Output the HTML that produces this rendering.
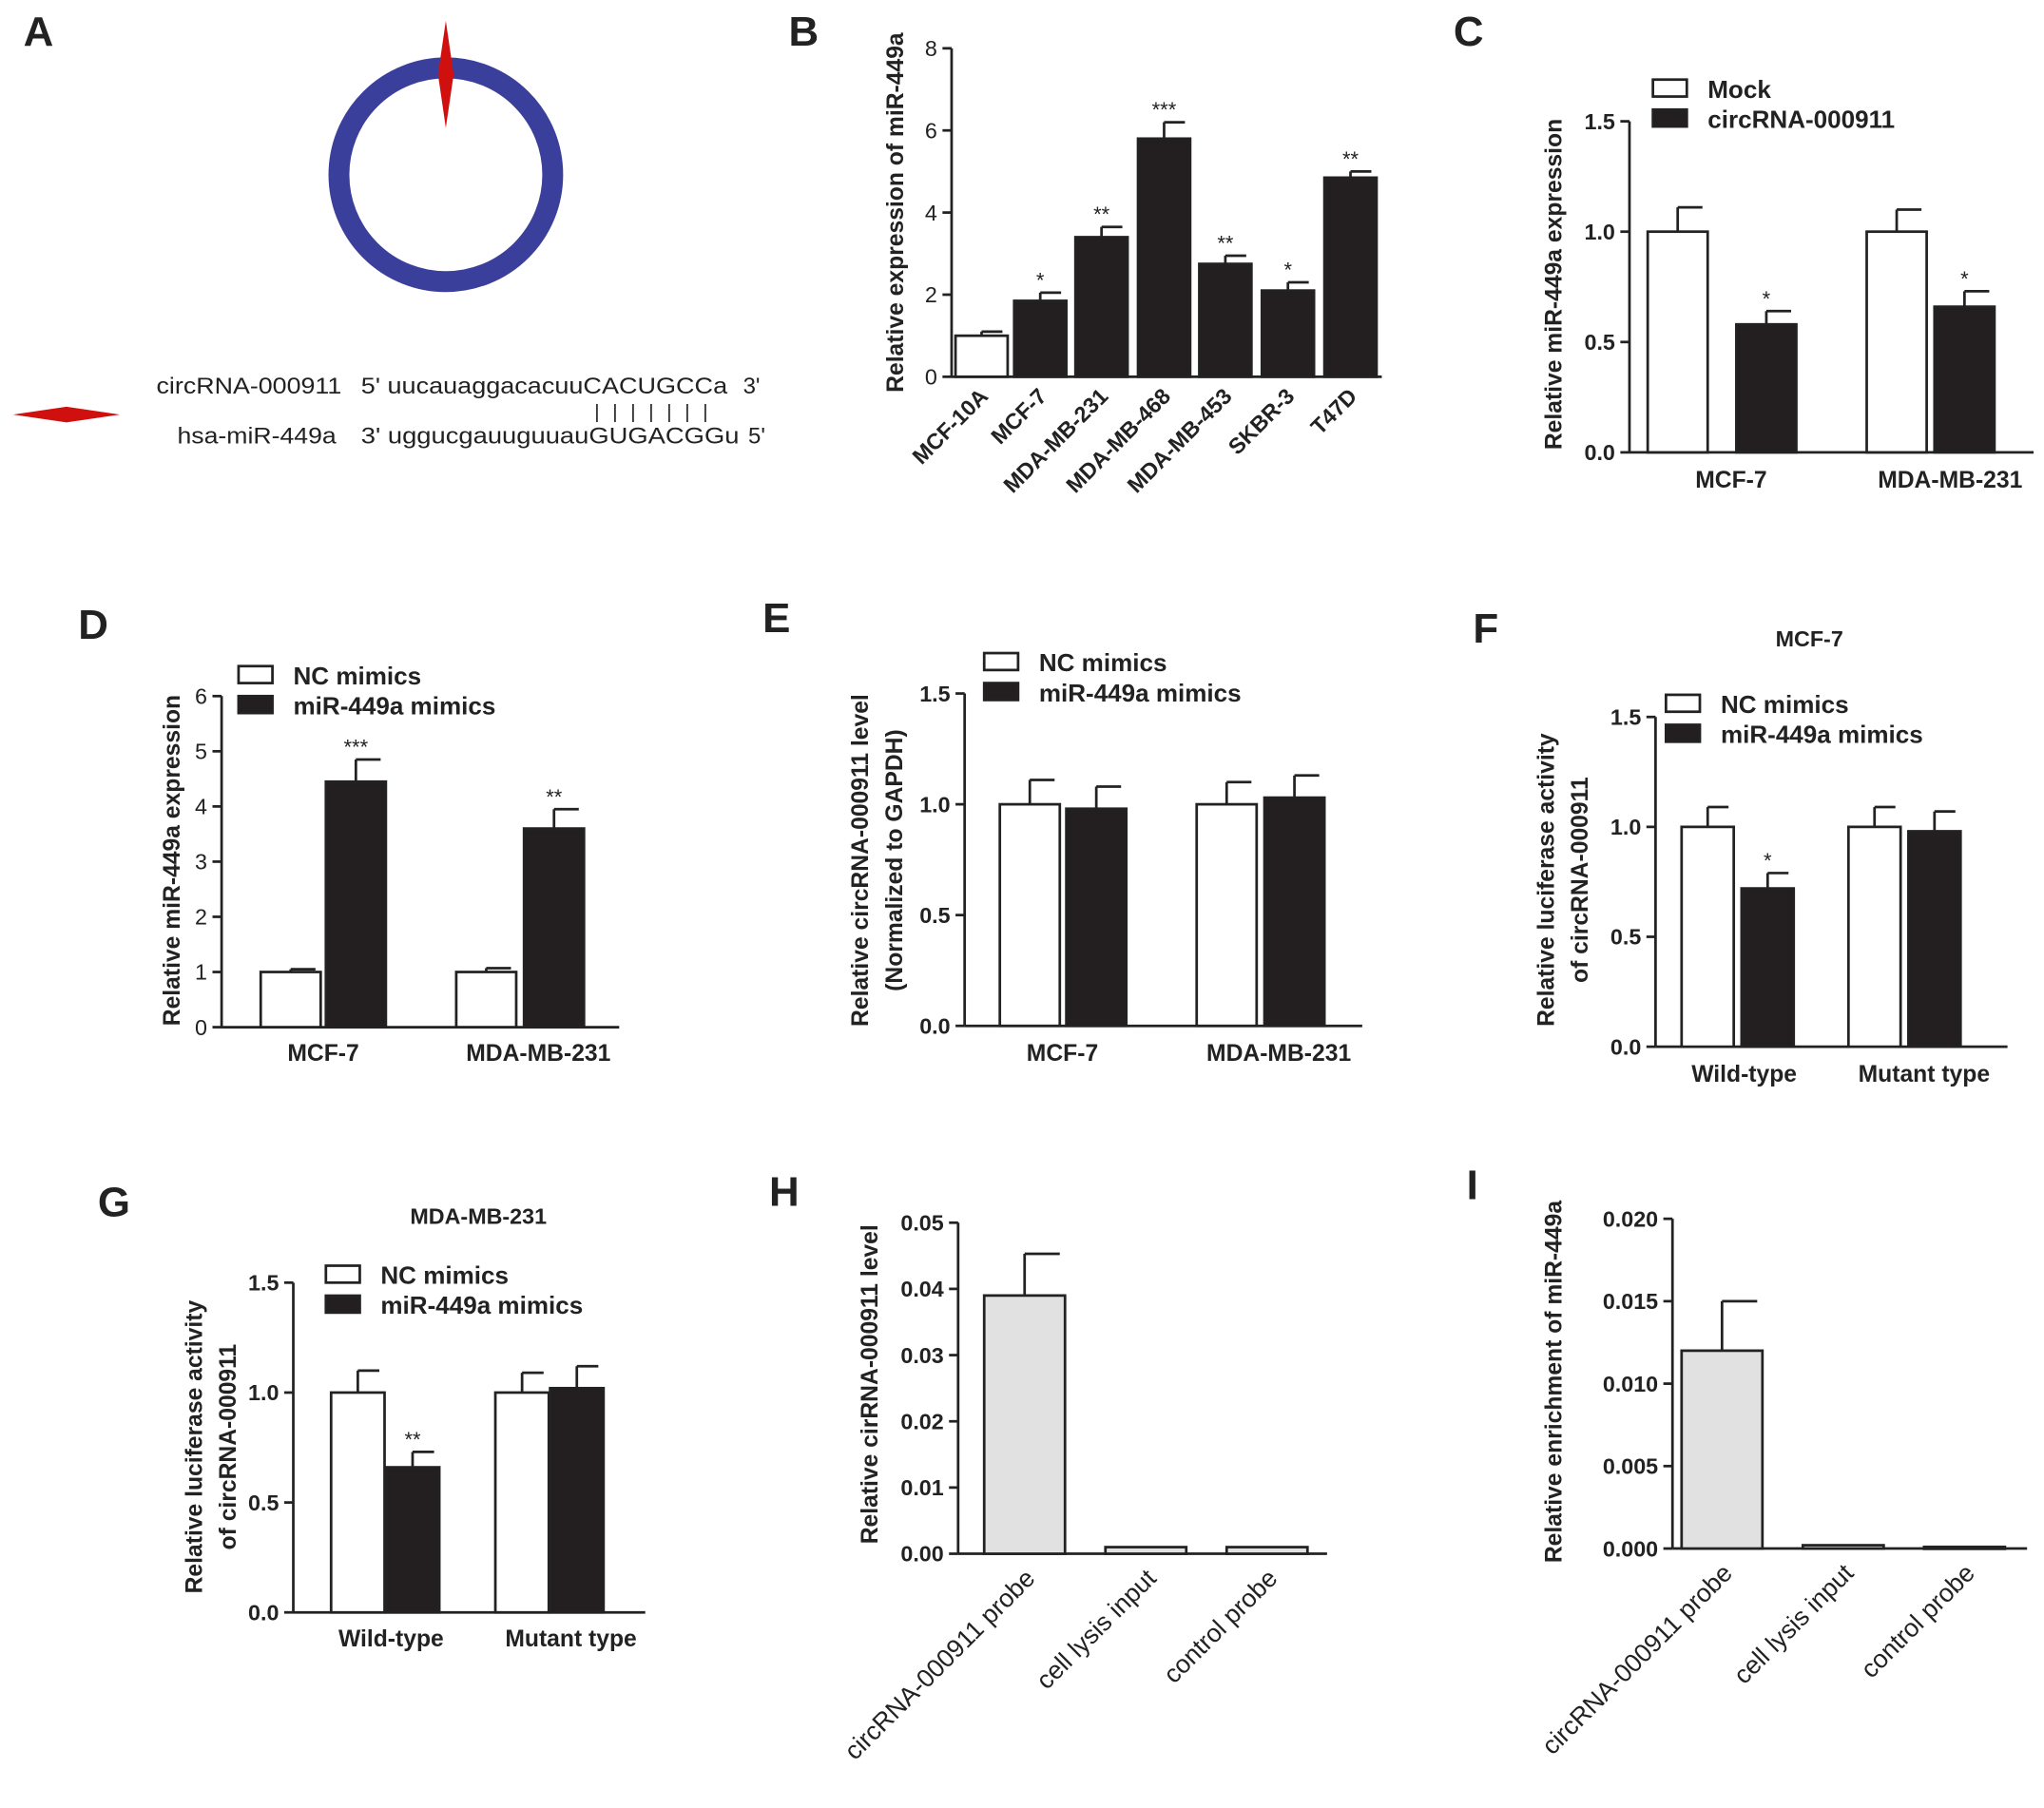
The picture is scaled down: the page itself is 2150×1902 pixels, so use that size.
<!DOCTYPE html>
<html><head><meta charset="utf-8"><style>
html,body{margin:0;padding:0;background:#fff}
svg{display:block}
text{font-family:"Liberation Sans",sans-serif;fill:#222}
</style></head><body>
<svg id="fig" width="2150" height="1902" viewBox="0 0 1568 1387" xmlns="http://www.w3.org/2000/svg">
<g>
<text x="18" y="35" font-size="32" font-weight="bold">A</text>
<circle cx="342" cy="134" r="82" fill="none" stroke="#3b3f9c" stroke-width="16"/>
<polygon points="342,16 348,57 342,98 336,57" fill="#d0100f"/>
<polygon points="10,318 51,312 92,318 51,324" fill="#d0100f"/>
<text x="120" y="302" font-size="17.5" textLength="142" lengthAdjust="spacingAndGlyphs">circRNA-000911</text>
<text x="277" y="302" font-size="17.5" textLength="281" lengthAdjust="spacingAndGlyphs">5' uucauaggacacuuCACUGCCa</text>
<text x="570" y="302" font-size="17.5">3'</text>
<text x="456" y="321" font-size="15" textLength="87" lengthAdjust="spacing">|||||||</text>
<text x="136" y="340" font-size="17.5" textLength="122" lengthAdjust="spacingAndGlyphs">hsa-miR-449a</text>
<text x="277" y="340" font-size="17.5" textLength="290" lengthAdjust="spacingAndGlyphs">3' uggucgauuguuauGUGACGGu</text>
<text x="574" y="340" font-size="17.5">5'</text>
</g>
</svg>
<script>
// Panel B
const bCats=["MCF-10A","MCF-7","MDA-MB-231","MDA-MB-468","MDA-MB-453","SKBR-3","T47D"];
const bVals=[1.0,1.85,3.4,5.8,2.75,2.1,4.85];
const bErr=[0.1,0.2,0.25,0.4,0.2,0.2,0.15];
const bStars=["","*","**","***","**","*","**"];
const bTicks=[0,2,4,6,8];
// Panel C
const cGroups=["MCF-7","MDA-MB-231"];
const cSeries=["Mock","circRNA-000911"];
const cVals=[[1.0,0.58],[1.0,0.66]];
const cErr=[[0.11,0.06],[0.1,0.07]];
const cStars=[["","*"],["","*"]];
const cTicks=[0,0.5,1.0,1.5];
// Panel D
const dGroups=["MCF-7","MDA-MB-231"];
const dSeries=["NC mimics","miR-449a mimics"];
const dVals=[[1.0,4.45],[1.0,3.6]];
const dErr=[[0.05,0.4],[0.07,0.35]];
const dStars=[["","***"],["","**"]];
const dTicks=[0,1,2,3,4,5,6];
// Panel E
const eGroups=["MCF-7","MDA-MB-231"];
const eVals=[[1.0,0.98],[1.0,1.03]];
const eErr=[[0.11,0.1],[0.1,0.1]];
const eTicks=[0,0.5,1.0,1.5];
// Panel F
const fGroups=["Wild-type","Mutant type"];
const fVals=[[1.0,0.72],[1.0,0.98]];
const fErr=[[0.09,0.07],[0.09,0.09]];
const fStars=[["","*"],["",""]];
const fTicks=[0,0.5,1.0,1.5];
// Panel G
const gGroups=["Wild-type","Mutant type"];
const gVals=[[1.0,0.66],[1.0,1.02]];
const gErr=[[0.1,0.07],[0.09,0.1]];
const gStars=[["","**"],["",""]];
const gTicks=[0,0.5,1.0,1.5];
// Panel H
const hCats=["circRNA-000911 probe","cell lysis input","control probe"];
const hVals=[0.039,0.001,0.001];
const hErr=[0.0063,0,0];
const hTicks=[0,0.01,0.02,0.03,0.04,0.05];
// Panel I
const iCats=["circRNA-000911 probe","cell lysis input","control probe"];
const iVals=[0.012,0.0002,0.0001];
const iErr=[0.003,0,0];
const iTicks=[0,0.005,0.010,0.015,0.020];

const NS="http://www.w3.org/2000/svg";
const fig=document.getElementById('fig');
function mk(tag,attrs,parent,txt){const e=document.createElementNS(NS,tag);for(const k in attrs)e.setAttribute(k,attrs[k]);if(txt!==undefined)e.textContent=txt;parent.appendChild(e);return e;}

function panel(c){
  const g=mk('g',{},fig);
  
  
  const yS=v=>c.y0-(v/c.max)*(c.y0-c.y1);
  const lab=mk('text',{x:c.lx,y:c.ly,'font-size':32,'font-weight':'bold'},g,c.id.toUpperCase());
  
  
  if(c.title){const t=mk('text',{x:c.title[1],y:c.title[2],'font-size':17,'font-weight':'bold','text-anchor':'middle'},g,c.title[0]);
    
    }
  const ya=mk('line',{x1:c.ax,y1:c.y1,x2:c.ax,y2:c.y0,stroke:'#222','stroke-width':2},g);
  
  
  const xa=mk('line',{x1:c.ax,y1:c.y0,x2:c.axEnd,y2:c.y0,stroke:'#222','stroke-width':2},g);
  
  
  c.ticks.forEach(t=>{const y=yS(t);
    mk('line',{x1:c.ax-7,y1:y,x2:c.ax,y2:y,stroke:'#222','stroke-width':2},g);
    const tl=mk('text',{x:c.ax-11,y:y+6,'font-size':17,'font-weight':c.tickBold?'bold':'normal','text-anchor':'end'},g,t.toFixed(c.dec));
    
    });
  c.ytitle.forEach((s,i)=>{const x=c.ytx+i*26;
    const yt=mk('text',{x:x,y:c.yty,'font-size':18,'font-weight':'bold','text-anchor':'middle',transform:`rotate(-90 ${x} ${c.yty})`},g,s);
    
    });
  c.bars.forEach(b=>{
    const top=yS(b.v);
    if(b.e>0){const et=yS(b.v+b.e);
      mk('line',{x1:b.x+b.w/2,y1:top,x2:b.x+b.w/2,y2:et,stroke:'#222','stroke-width':2},g);
      mk('line',{x1:b.x+b.w/2,y1:et,x2:b.x+b.w-4,y2:et,stroke:'#222','stroke-width':2},g);}
    const r=mk('rect',{x:b.x,y:top,width:b.w,height:Math.max(c.y0-top,1.5),fill:b.fill,stroke:'#222','stroke-width':2},g);
    
    
    if(b.star){const s=mk('text',{x:b.x+b.w/2,y:yS(b.v+b.e)-4,'font-size':16,'text-anchor':'middle'},g,b.star);
      
      }
  });
  c.xl.forEach(l=>{
    let t;
    if(l.rot){t=mk('text',{x:l.x,y:l.y,'font-size':l.fs||17,'font-weight':l.bold?'bold':'normal','text-anchor':'end',transform:`rotate(-45 ${l.x} ${l.y})`},g,l.t);}
    else{t=mk('text',{x:l.x,y:l.y,'font-size':18,'font-weight':'bold','text-anchor':'middle'},g,l.t);}
    
    
  });
  if(c.leg){c.leg.names.forEach((n,i)=>{const y=c.leg.y+i*23;
    const r=mk('rect',{x:c.leg.x,y:y-7,width:26,height:13,fill:i?'#231f20':'#fff',stroke:'#222','stroke-width':2},g);
    
    
    const t=mk('text',{x:c.leg.x+42,y:y+7,'font-size':19,'font-weight':'bold'},g,n);
    
    });}
}
function grouped(vals,err,stars,xs,w){const out=[];vals.forEach((gv,gi)=>gv.forEach((v,si)=>out.push({x:xs[gi][si],w:w,v:v,e:err[gi][si],star:stars?stars[gi][si]:'',fill:si?'#231f20':'#fff'})));return out;}

const bX=[733,778,825,873,920,968,1016];
panel({id:'b',lx:605,ly:35,ax:730,axEnd:1060,y0:289,y1:37,max:8,ticks:bTicks,dec:0,tickBold:false,
  ytitle:['Relative expression of miR-449a'],ytx:693,yty:163,
  bars:bVals.map((v,i)=>({x:bX[i],w:40,v:v,e:bErr[i],star:bStars[i],fill:i?'#231f20':'#fff'})),
  xl:bCats.map((t,i)=>({t:t,x:bX[i]+26,y:305,rot:1,bold:1}))});
panel({id:'c',lx:1115,ly:35,ax:1250,axEnd:1560,y0:347,y1:93,max:1.5,ticks:cTicks,dec:1,tickBold:true,
  ytitle:['Relative miR-449a expression'],ytx:1198,yty:218,
  bars:grouped(cVals,cErr,cStars,[[1264,1332],[1432,1484]],46),
  xl:cGroups.map((t,i)=>({t:t,x:[1328,1496][i],y:374})),leg:{x:1268,y:68,names:cSeries}});
panel({id:'d',lx:60,ly:490,ax:170,axEnd:475,y0:788,y1:534,max:6,ticks:dTicks,dec:0,tickBold:false,
  ytitle:['Relative miR-449a expression'],ytx:138,yty:660,
  bars:grouped(dVals,dErr,dStars,[[200,250],[350,402]],46),
  xl:dGroups.map((t,i)=>({t:t,x:[248,413][i],y:814})),leg:{x:183,y:518,names:dSeries}});
panel({id:'e',lx:585,ly:485,ax:740,axEnd:1045,y0:787,y1:532,max:1.5,ticks:eTicks,dec:1,tickBold:true,
  ytitle:['Relative circRNA-000911 level','(Normalized to GAPDH)'],ytx:666,yty:660,
  bars:grouped(eVals,eErr,null,[[767,818],[918,970]],46),
  xl:eGroups.map((t,i)=>({t:t,x:[815,981][i],y:814})),leg:{x:755,y:508,names:dSeries}});
panel({id:'f',lx:1130,ly:493,ax:1270,axEnd:1540,y0:803,y1:550,max:1.5,ticks:fTicks,dec:1,tickBold:true,title:['MCF-7',1388,496],
  ytitle:['Relative luciferase activity','of circRNA-000911'],ytx:1192,yty:675,
  bars:grouped(fVals,fErr,fStars,[[1290,1336],[1418,1464]],40),
  xl:fGroups.map((t,i)=>({t:t,x:[1338,1476][i],y:830})),leg:{x:1278,y:540,names:dSeries}});
panel({id:'g',lx:75,ly:933,ax:225,axEnd:495,y0:1237,y1:984,max:1.5,ticks:gTicks,dec:1,tickBold:true,title:['MDA-MB-231',367,939],
  ytitle:['Relative luciferase activity','of circRNA-000911'],ytx:155,yty:1110,
  bars:grouped(gVals,gErr,gStars,[[254,296],[380,422]],41),
  xl:gGroups.map((t,i)=>({t:t,x:[300,438][i],y:1263})),leg:{x:250,y:978,names:dSeries}});
const hX=[755,848,941];
panel({id:'h',lx:590,ly:925,ax:735,axEnd:1018,y0:1192,y1:938,max:0.05,ticks:hTicks,dec:2,tickBold:true,
  ytitle:['Relative cirRNA-000911 level'],ytx:673,yty:1062,
  bars:hVals.map((v,i)=>({x:hX[i],w:62,v:v,e:hErr[i],star:'',fill:'#e1e1e1'})),
  xl:hCats.map((t,i)=>({t:t,x:hX[i]+40,y:1212,rot:1,fs:19.5}))});
const iX=[1290,1383,1476];
panel({id:'i',lx:1125,ly:920,ax:1283,axEnd:1555,y0:1188,y1:935,max:0.02,ticks:iTicks,dec:3,tickBold:true,
  ytitle:['Relative enrichment of miR-449a'],ytx:1198,yty:1060,
  bars:iVals.map((v,i)=>({x:iX[i],w:62,v:v,e:iErr[i],star:'',fill:'#e1e1e1'})),
  xl:iCats.map((t,i)=>({t:t,x:iX[i]+40,y:1208,rot:1,fs:19.5}))});
</script>
</body></html>
